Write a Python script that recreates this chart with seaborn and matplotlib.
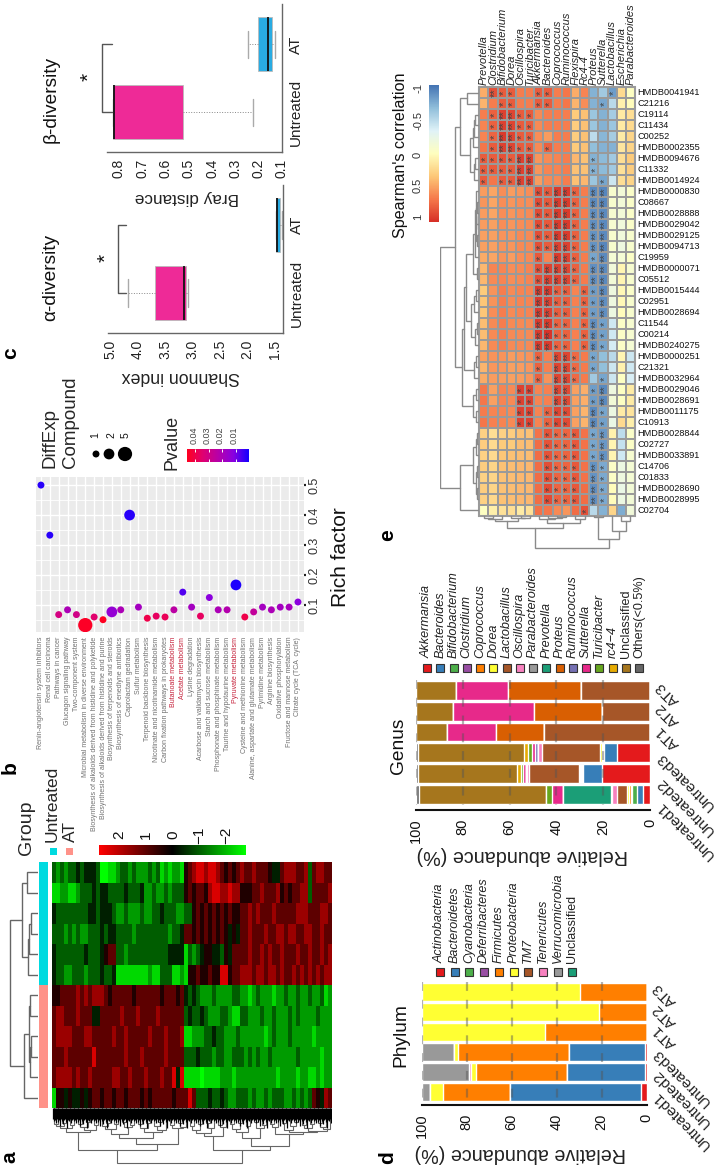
import numpy as np
import pandas as pd
import seaborn as sns
import matplotlib
matplotlib.use('Agg')
import matplotlib.pyplot as plt
from matplotlib.colors import LinearSegmentedColormap
from matplotlib.patches import Rectangle

W, H = 719, 1166

sns.set_style('white')
plt.rcParams['font.family'] = ['Liberation Sans', 'DejaVu Sans']

a_rows = [
    "323233434443" "0011" "23323222323121221" "5678878876565676676665446777667367766",
    "112211233343" "4433" "33433342232232333" "5656657887787755566766675656677366667",
    "433333333443" "4443" "22322232233433322" "3356565656565566767666766666777666776",
    "333232322333" "4344" "33332333333332334" "6656565656545466766676677677667766766",
    "433333334333" "4566" "33233333333334444" "1323455443546666766767667666766766767",
    "433223332333" "4334" "11111111211333112" "1556556558856677767767767667676767677",
    "556666767677" "7656" "66665666666566656" "4343222322223322123222122322322322312",
    "677666766644" "6666" "67666766667666666" "3433432223321133222322322232322223222",
    "677776667766" "6667" "66766666766676667" "1122233433222322222212322232222212222",
    "666766666686" "6666" "66766676666676666" "3334333233223332323223222222322222122",
    "677776766766" "6667" "76676667666766848" "1111011112221222222222212222122112122",
    "155454454566" "5665" "66566656566666566" "6863334334322333232232333223232365476",
]
a_dendro_rows = [11, 16, 7, 9, 10, 28, 8, 9, 7, 8, 14]
a_dendro_cols = [16, 18, 15, 20, 17, 24, 16, 19, 14, 22, 17, 42,
                 18, 15, 21, 16, 26, 14, 19, 17, 30, 16, 20, 15, 24, 18, 14, 22, 36, 17, 20, 15, 19, 55,
                 18, 22, 16, 25, 15, 20, 28, 17, 19, 42,
                 16, 21, 15, 24, 18, 30, 14, 20, 17, 38, 16, 19, 26, 15, 22, 18, 14, 24, 17, 20, 16, 23, 15, 19, 21]
a_stems = [11, 13, 12, 15, 11, 14, 12, 18, 11, 13, 16, 12, 11, 14, 20, 12, 13, 11, 15, 12]
a_n_untreated = 6
a_ticks = ['2', '1', '0', '\u22121', '\u22122']

# ---- panel b
pathways = ['Renin-angiotensin system inhibitors', 'Renal cell carcinoma', 'Pathways in cancer',
            'Glucagon signaling pathway', 'Two-component system', 'Microbial metabolism in diverse environment',
            'Biosynthesis of alkaloids derived from histidine and polyketide',
            'Biosynthesis of alkaloids derived from histidine and purine',
            'Biosynthesis of terpenoids and steroids', 'Biosynthesis of enediyne antibiotics',
            'Caprolactam gedradation', 'Sulfur metabolism', 'Terpenoid backbone biosynthesis',
            'Nicotinate and nicotinamide metabolism', 'Carbon fixation pathways in prokaryotes',
            'Butanoate metabolism', 'Acetate metabolism', 'Lysine degradation',
            'Acarbose and validamycin biosynthesis', 'Starch and sucrose metabolism',
            'Phosphonate and phosphinate metabolism', 'Taurine and hypotaurine metabolism',
            'Pyruvate metabolism', 'Cysteine and methionine metabolism',
            'Alanine, aspartate and glutamate metabolism', 'Pyrimidine metabolism', 'Arginine biosynthesis',
            'Oxidative phosphorylation', 'Fructose and mannose metabolism', 'Citrate cycle (TCA  cycle)']
rich_factor = [0.5, 0.333, 0.068, 0.084, 0.068, 0.033, 0.06, 0.051, 0.077, 0.084, 0.4, 0.093, 0.056, 0.063, 0.06,
               0.084, 0.143, 0.093, 0.063, 0.125, 0.084, 0.084, 0.167, 0.06, 0.077, 0.093, 0.084, 0.093, 0.093, 0.11]
pvalue = [0.002, 0.002, 0.031, 0.02, 0.03, 0.045, 0.035, 0.046, 0.014, 0.02, 0.002, 0.018, 0.04, 0.037, 0.038,
          0.024, 0.006, 0.018, 0.037, 0.012, 0.02, 0.022, 0.001, 0.04, 0.026, 0.018, 0.02, 0.018, 0.019, 0.012]
compound = [1, 1, 1, 1, 1, 5, 1, 1, 2, 1, 2, 1, 1, 1, 1, 1, 1, 1, 1, 1, 1, 1, 2, 1, 1, 1, 1, 1, 1, 1]
red_pathways = ['Butanoate metabolism', 'Acetate metabolism', 'Pyruvate metabolism']
rich_ticks = [0.1, 0.2, 0.3, 0.4, 0.5]

# ---- panel c
alpha_stats = [dict(label='Untreated', whislo=3.08, q1=3.12, med=3.15, q3=3.68, whishi=4.17),
               dict(label='AT', whislo=1.37, q1=1.41, med=1.47, q3=1.48, whishi=1.48)]
beta_stats = [dict(label='Untreated', whislo=0.224, q1=0.525, med=0.82, q3=0.825, whishi=0.825),
              dict(label='AT', whislo=0.13, q1=0.143, med=0.16, q3=0.203, whishi=0.246)]
alpha_ticks = [4.5, 4.0, 3.5, 3.0, 2.5, 2.0, 1.5]
alpha_labels = ['5.0', '4.0', '3.5', '3.0', '2.5', '2.0', '1.5']
beta_ticks = [0.8, 0.7, 0.6, 0.5, 0.4, 0.3, 0.2, 0.1]

# ---- panel d
samples = ['AT3', 'AT2', 'AT1', 'Untreated3', 'Untreated2', 'Untreated1']
phylum_names = ['Actinobacteria', 'Bacteroidetes', 'Cyanobacteria', 'Deferribacteres', 'Firmicutes',
                'Proteobacteria', 'TM7', 'Tenericutes', 'Verrucomicrobia', 'Unclassified']
phylum_colors = ['#E41A1C', '#377EB8', '#4DAF4A', '#984EA3', '#FF7F00', '#FFFF33', '#A65628', '#F781BF', '#999999', '#1B9E77']
phylum_at3 = [0, 0, 0, 0, 29.6, 70.4, 0, 0, 0, 0]
phylum_at2 = [0, 0, 0, 0, 21, 79, 0, 0, 0, 0]
phylum_at1 = [0, 0, 0, 0, 45, 55, 0, 0, 0, 0]
phylum_u3 = [0.7, 33.8, 0, 0, 49.3, 2, 0, 0, 14.2, 0]
phylum_u2 = [0.6, 34.9, 0, 0, 40.5, 2, 0, 0.8, 21.2, 0]
phylum_u1 = [2.5, 58.2, 0, 0, 30, 5.6, 0, 0, 3.7, 0]

# ---- genus
genus_names = ['Akkermansia', 'Bacteroides', 'Bifidobacterium', 'Clostridium', 'Coprococcus', 'Dorea', 'Lactobacillus',
               'Oscillospira', 'Parabacteroides', 'Prevotella', 'Proteus', 'Ruminococcus', 'Sutterella', 'Turicibacter',
               'rc4\u22124', 'Unclassified', 'Others(<0.5%)']
genus_colors = ['#E41A1C', '#377EB8', '#4DAF4A', '#984EA3', '#FF7F00', '#FFFF33', '#A65628', '#F781BF', '#999999',
                '#1B9E77', '#D95F02', '#7570B3', '#E7298A', '#66A61E', '#E6AB02', '#A6761D', '#666666']
genus_at3 = [0, 0, 0, 0, 0, 0, 29.6, 0, 0, 0, 31, 0, 22.3, 0, 0, 17.1, 0]
genus_at2 = [0, 0, 0, 0, 0, 0, 20.4, 0, 0, 0, 29.2, 0, 34.7, 0, 0, 15.7, 0]
genus_at1 = [0, 0, 0, 0, 0, 0, 45.3, 0, 0, 0, 20.4, 0, 21.1, 0, 0, 13.2, 0]
genus_u3 = [13.9, 5.8, 0.4, 0.1, 0.5, 0.5, 25.1, 1.4, 0.1, 0, 0, 1.2, 1.3, 1.7, 1.7, 45.3, 1]
genus_u2 = [20.6, 7.9, 0.5, 0.3, 0.8, 0.4, 21.1, 1.1, 0.1, 0.1, 0, 0.3, 1, 0.8, 2, 42, 1]
genus_u1 = [3.1, 2.3, 2.4, 0.3, 0.9, 0.8, 4.4, 2.2, 0.2, 20.6, 0, 0, 4.7, 2.7, 0, 54.2, 1.4]
abundance_ticks = [0, 20, 40, 60, 80, 100]

# ---- panel e
e_cols = ['Prevotella', 'Clostridium', 'Bifidobacterium', 'Dorea', 'Oscillospira', 'Turicibacter', 'Akkermansia',
          'Bacteroides', 'Coprococcus', 'Ruminococcus', 'Flexispira', 'Rc4-4', 'Proteus', 'Sutterella',
          'Lactobacillus', 'Escherichia', 'Parabacteroides']
e_rows = ['HMDB0041941', 'C21216', 'C19114', 'C11434', 'C00252', 'HMDB0002355', 'HMDB0094676', 'C11332', 'HMDB0014924',
          'HMDB0000830', 'C08667', 'HMDB0028888', 'HMDB0029042', 'HMDB0029125', 'HMDB0094713', 'C19959', 'HMDB0000071',
          'C05512', 'HMDB0015444', 'C02951', 'HMDB0028694', 'C11544', 'C00214', 'HMDB0240275', 'HMDB0000251', 'C21321',
          'HMDB0032964', 'HMDB0029046', 'HMDB0028691', 'HMDB0011175', 'C10913', 'HMDB0028844', 'C02727', 'HMDB0033891',
          'C14706', 'C01833', 'HMDB0028690', 'HMDB0028995', 'C02704']
e_corr = [
    [.45, .85, .8, .8, .65, .65, .8, .8, .65, .68, .45, .62, -.72, -.6, -.82, .22, -.02],
    [.42, .65, .8, .8, .65, .65, .8, .8, .65, .68, .42, .58, -.72, -.78, -.5, .08, .02],
    [.65, .78, .92, .9, .8, .8, .6, .65, .65, .65, .32, .36, -.62, -.72, -.58, .13, .2],
    [.62, .78, .92, .9, .8, .8, .6, .65, .65, .65, .3, .36, -.62, -.72, -.62, .13, .22],
    [.62, .76, .95, .9, .8, .8, .58, .52, .65, .65, .3, .36, -.48, -.7, -.58, .12, .25],
    [.68, .8, .92, .9, .8, .8, .6, .78, .65, .65, .32, .36, -.66, -.72, -.72, .15, .26],
    [.8, .8, .85, .8, .92, .92, .55, .6, .62, .65, .4, .36, -.72, -.68, -.6, .2, .32],
    [.8, .8, .8, .8, .92, .92, .55, .62, .62, .65, .36, .36, -.72, -.68, -.6, .18, .3],
    [.8, .68, .8, .8, .92, .92, .52, .6, .6, .65, .36, .4, -.62, -.78, -.42, .2, .26],
    [.52, .48, .58, .52, .55, .58, .88, .82, .95, .95, .78, .65, -.9, -.92, -.08, -.14, -.05],
    [.55, .48, .58, .55, .58, .58, .88, .82, .95, .95, .78, .65, -.9, -.92, -.08, -.14, -.05],
    [.52, .48, .58, .55, .58, .6, .88, .82, .95, .95, .78, .65, -.88, -.9, -.1, -.14, -.05],
    [.52, .5, .58, .55, .58, .6, .88, .82, .95, .95, .78, .65, -.88, -.9, -.1, -.16, -.06],
    [.5, .5, .56, .55, .6, .6, .86, .8, .95, .95, .78, .65, -.86, -.9, -.08, -.16, -.08],
    [.5, .5, .56, .55, .6, .6, .86, .8, .92, .92, .78, .65, -.86, -.92, -.08, -.18, -.08],
    [.46, .48, .56, .52, .58, .6, .82, .62, .95, .92, .78, .65, -.78, -.9, -.12, -.12, -.04],
    [.4, .62, .62, .58, .6, .62, .86, .92, .92, .9, .78, .66, -.88, -.9, -.15, .06, -.1],
    [.4, .6, .62, .58, .6, .62, .86, .92, .92, .9, .78, .66, -.88, -.9, -.14, .06, -.08],
    [.32, .56, .65, .6, .62, .62, .95, .95, .8, .8, .62, .78, -.82, -.9, -.18, .04, -.06],
    [.34, .56, .65, .6, .62, .62, .95, .92, .8, .8, .64, .78, -.82, -.88, -.18, .04, -.08],
    [.34, .58, .65, .6, .62, .62, .95, .92, .8, .8, .64, .78, -.82, -.88, -.2, .02, -.08],
    [.38, .6, .65, .6, .6, .6, .95, .95, .78, .78, .64, .78, -.88, -.8, -.4, -.04, -.1],
    [.38, .6, .65, .6, .6, .6, .95, .98, .78, .78, .64, .78, -.88, -.8, -.4, -.04, -.1],
    [.4, .6, .65, .6, .6, .6, .95, .95, .78, .78, .64, .78, -.88, -.78, -.38, -.04, -.12],
    [.5, .56, .56, .52, .54, .56, .78, .64, .9, .9, .74, .66, -.78, -.66, -.5, .06, -.42],
    [.42, .54, .54, .5, .52, .54, .78, .64, .9, .9, .74, .66, -.78, -.66, -.42, .08, -.4],
    [.46, .52, .52, .5, .52, .54, .78, .56, .9, .9, .74, .66, -.6, -.78, -.42, -.02, -.36],
    [.68, .5, .62, .6, .92, .92, .62, .64, .9, .88, .5, .44, -.82, -.9, -.18, -.02, .12],
    [.68, .5, .62, .6, .92, .92, .62, .64, .9, .88, .5, .44, -.82, -.9, -.14, -.02, .12],
    [.66, .62, .62, .6, .92, .92, .62, .78, .9, .88, .5, .42, -.9, -.78, -.2, .12, .16],
    [.68, .64, .62, .6, .92, .92, .62, .78, .9, .88, .5, .42, -.9, -.8, -.22, .22, .1],
    [.28, .2, .28, .3, .36, .36, .7, .84, .76, .76, .82, .7, -.78, -.84, .08, -.48, -.06],
    [.3, .22, .32, .32, .38, .38, .72, .84, .76, .76, .82, .7, -.78, -.84, .06, -.45, -.04],
    [.28, .22, .34, .36, .38, .38, .72, .84, .76, .76, .82, .7, -.78, -.86, .06, -.4, -.1],
    [.3, .26, .36, .38, .4, .4, .72, .86, .76, .76, .82, .7, -.86, -.76, -.04, -.2, -.12],
    [.28, .26, .36, .38, .4, .4, .72, .86, .76, .76, .82, .7, -.86, -.76, -.04, -.18, -.12],
    [.3, .26, .36, .38, .4, .4, .72, .88, .76, .76, .82, .72, -.88, -.76, .02, -.22, -.14],
    [.28, .24, .36, .38, .4, .4, .72, .88, .76, .76, .82, .72, -.88, -.76, .02, -.2, -.14],
    [-.02, .1, .18, .2, .12, .18, .7, .68, .6, .55, .72, .85, -.5, -.72, .25, -.75, -.15],
]
# number of stars per cell
e_stars = ["02110011000000100", "00110011000001000", "01221100000000000", "01221100000000000",
           "01221100000000000", "01221101000000000", "11112200000010000", "11112200000010000",
           "10112200000001000", "00000011221022000", "00000011221022000", "00000011221022000",
           "00000011221022000", "00000011221022000", "00000011221022000", "00000010221012000",
           "00000012221022000", "00000012221022000", "00000022110112000", "00000022110112000",
           "00000022110112000", "00000022110121000", "00000022110121000", "00000022110121000",
           "00000010221010000", "00000010221010000", "00000010221001000", "00001100220012000",
           "00001100220012000", "00001101110021000", "00001101110021000", "00000001111012000",
           "00000001111012000", "00000001111012000", "00000001111021000", "00000001111021000",
           "00000001111021000", "00000001111021000", "00000000000100000"]
e_dendro_rows = [12, 19, 4, 5, 6, 9, 4, 5, 24, 3, 2, 2.5, 3, 2, 4, 6, 2, 13, 3, 5, 8, 2, 4, 15, 3, 5, 17,
                 3, 5.5, 3, 39, 2, 3, 5.5, 2, 3, 2, 19]
e_dendro_cols = [2, 3, 5, 2, 1.5, 12, 3, 2, 1, 7, 3, 32, 1, 23, 15, 5]
e_cbar_ticks = [-1, -0.5, 0, 0.5, 1]


def px_axes(x0, y0, x1, y1):
    return fig.add_axes([x0 / W, 1 - y1 / H, (x1 - x0) / W, (y1 - y0) / H])


def tree_lines(heights, lo, hi, out):
    # adjacent merge heights -> binary tree, split at the tallest merge
    if lo == hi:
        return lo + 0.5, 0
    k = lo + int(np.argmax(heights[lo:hi]))
    p1, h1 = tree_lines(heights, lo, k, out)
    p2, h2 = tree_lines(heights, k + 1, hi, out)
    h = heights[k]
    out.append(([p1, p1, p2, p2], [h1, h, h, h2]))
    return (p1 + p2) / 2, h


def draw_tree(ax, heights, flip, color='#777777', lw=1.0):
    out = []
    tree_lines(heights, 0, len(heights), out)
    for pos, hgt in out:
        if flip:
            ax.plot(hgt, pos, color=color, lw=lw, solid_joinstyle='miter')
        else:
            ax.plot(pos, hgt, color=color, lw=lw, solid_joinstyle='miter')
    ax.axis('off')


fig = plt.figure(figsize=(W / 100, H / 100), dpi=100)

# ================= a =================
a_levels = np.array([[int(c) for c in r.ljust(70, '6')[:70]] for r in a_rows], dtype=float)
a_values = (a_levels - 4.5) / 4.5 * 3.0
rg_cmap = LinearSegmentedColormap.from_list('rg', ['#00FF00', '#000000', '#FF0000'])
ax = px_axes(52, 862, 332, 1108)
sns.heatmap(a_values, ax=ax, cmap=rg_cmap, vmin=-2.75, vmax=2.75, cbar=False, xticklabels=False, yticklabels=False)

ax = px_axes(39, 862, 48, 1108)
group_flags = np.array([[0]] * a_n_untreated + [[1]] * (len(a_rows) - a_n_untreated))
sns.heatmap(group_flags, ax=ax, cmap=['#00DAE0', '#FF9289'], cbar=False, xticklabels=False, yticklabels=False)

ax = px_axes(9, 862, 38, 1108)
ax.set_xlim(29, 0)
ax.set_ylim(12, 0)
draw_tree(ax, a_dendro_rows, True, color='#666666')

ax = px_axes(52, 1108, 332, 1166)
ax.set_xlim(0, 70)
ax.set_ylim(58, 0)
draw_tree(ax, a_dendro_cols, False, color='#666666', lw=0.8)
ax.vlines((np.arange(280) + 0.5) / 4, 0, np.resize(a_stems, 280), color='black', lw=0.9)

ax = px_axes(99, 845, 246, 855)
ax.imshow(np.linspace(2.75, -2.75, 200)[None, :], cmap=rg_cmap, vmin=-2.75, vmax=2.75, aspect='auto')
ax.axis('off')

# ================= b =================
pv_cmap = LinearSegmentedColormap.from_list('pv', ['#1400FF', '#8A00E0', '#B800A8', '#E00070', '#FF0020'])
ax = px_axes(36, 477, 304, 632)
ax.set_facecolor('#EBEBEB')
b_frame = pd.DataFrame({'pathway': pathways, 'rich': rich_factor, 'p': pvalue, 'n': compound})
sns.scatterplot(data=b_frame, x='pathway', y='rich', hue='p', palette=pv_cmap, hue_norm=(0, 0.046), size='n',
                sizes={1: 25, 2: 60, 5: 105}, legend=False, linewidth=0, ax=ax, zorder=3)
ax.set_xlim(-0.56, 29.68)
ax.set_ylim(0.01, 0.527)
ax.set_xlabel('')
ax.set_ylabel('')
ax.set_xticks(range(len(pathways)))
ax.set_xticklabels(pathways, rotation=90, fontsize=5, color='#707070', ha='center', va='top')
for lab in ax.get_xticklabels():
    if lab.get_text() in red_pathways:
        lab.set_color('#C5203A')
ax.set_yticks(rich_ticks)
ax.set_yticklabels(['%.1f' % v for v in rich_ticks], rotation=90, va='center', fontsize=9, color='#333333')
ax.set_yticks([0.05, 0.15, 0.25, 0.35, 0.45], minor=True)
ax.yaxis.tick_right()
ax.tick_params(axis='both', which='major', length=1.5, width=1.6, color='#222222', pad=2)
ax.tick_params(axis='y', which='minor', length=0)
ax.grid(True, which='major', color='white', lw=1)
ax.grid(True, which='minor', axis='y', color='white', lw=0.6)
ax.set_axisbelow(True)
sns.despine(ax=ax, left=True, bottom=True, right=True, top=True)

ax = px_axes(187, 449, 249, 462)
ax.imshow(np.linspace(0.046, 0, 200)[None, :], cmap=pv_cmap, vmin=0, vmax=0.046, aspect='auto', extent=(0.046, 0, 0, 1))
ax.vlines([0.04, 0.03, 0.02, 0.01], 0, 0.2, color='white', lw=0.7)
ax.vlines([0.04, 0.03, 0.02, 0.01], 0.8, 1, color='white', lw=0.7)
ax.axis('off')


# ================= c =================
def box_panel(rect, stats, lims, ticks, labels):
    ax = px_axes(*rect)
    bp = ax.bxp(stats, positions=[1, 0], widths=0.8, orientation='horizontal', patch_artist=True, showfliers=False,
                capwidths=0.4, manage_ticks=False,
                boxprops=dict(edgecolor='#BBBBBB', lw=0.6),
                medianprops=dict(color='#111111', lw=1.3),
                whiskerprops=dict(color='#888888', lw=0.7, ls=':'),
                capprops=dict(color='#AAAAAA', lw=1))
    bp['boxes'][0].set_facecolor('#EE2A97')
    bp['boxes'][1].set_facecolor('#29ABE2')
    ax.set_xlim(*lims)
    ax.set_ylim(1.588, -0.588)
    ax.set_xticks(ticks)
    ax.set_xticklabels(labels, rotation=90, fontsize=10, color='#222222')
    ax.set_yticks([0, 1])
    ax.set_yticklabels(['AT', 'Untreated'], rotation=90, va='center', fontsize=11, color='#222222')
    ax.yaxis.tick_right()
    ax.tick_params(length=3, width=0.8, color='#555555', pad=2)
    sns.despine(ax=ax, left=True, top=True, right=False, bottom=False)
    for side in ['bottom', 'right']:
        ax.spines[side].set_color('#666666')
        ax.spines[side].set_linewidth(1)
    ax.patch.set_alpha(0)


box_panel((108, 185, 283, 333), alpha_stats, (4.536, 1.355), alpha_ticks, alpha_labels)
box_panel((107, 4.5, 282, 152), beta_stats, (0.851, 0.1), beta_ticks, ['%.1f' % v for v in beta_ticks])


# ================= d and genus =================
def stack_panel(rect, cats_top, rows, colors, bottom_extra, label_shift):
    ax = px_axes(*rect)
    cum = np.cumsum(np.array(rows, dtype=float), axis=1)
    cum = cum / cum[:, -1:] * 100
    for j in range(cum.shape[1] - 1, -1, -1):
        sns.barplot(x=cum[:, j], y=cats_top, order=cats_top, color=colors[j], saturation=1, width=0.9,
                    errorbar=None, orient='h', ax=ax)
    ax.set_xlim(100, 0)
    ax.set_ylim(5 + bottom_extra, -0.5)
    ax.vlines([20, 40, 60, 80, 100], -0.5, 5.5, color='#555555', alpha=0.45, lw=1.6, ls=(0, (4, 4)), zorder=5)
    ax.set_xlabel('')
    ax.set_ylabel('')
    ax.set_xticks(abundance_ticks)
    ax.set_xticklabels(abundance_ticks, rotation=90, fontsize=10.5, color='#111111')
    ax.tick_params(axis='x', length=4, width=1.3, color='#111111', pad=2)
    ax.set_yticks(range(6))
    ax.set_yticklabels([])
    ax.tick_params(axis='y', length=0)
    sns.despine(ax=ax, left=True, top=True, right=True)
    ax.spines['bottom'].set_linewidth(1.5)
    ax.spines['bottom'].set_color('#111111')
    for i, name in enumerate(cats_top):
        # text end sits a few pixels off the bar centre, as in the source figure
        ax.annotate(name, (0, i), xytext=(6, -label_shift[i] * 0.72), textcoords='offset points', rotation=135,
                    rotation_mode='anchor', ha='right', va='center', fontsize=11, color='#222222',
                    annotation_clip=False)
    ax.patch.set_alpha(0)


stack_panel((421.7, 982, 646.7, 1105), samples,
            [phylum_at3, phylum_at2, phylum_at1, phylum_u3, phylum_u2, phylum_u1], phylum_colors, 0.65,
            [-7, -6, -5, -2, -1, 1])
stack_panel((416, 680, 650, 810), samples,
            [genus_at3, genus_at2, genus_at1, genus_u3, genus_u2, genus_u1], genus_colors, 0.75,
            [-7, -6, -4, 2, 6, 9])

# ================= e =================
e_cmap = LinearSegmentedColormap.from_list('sp', ['#4575B4', '#91BFDB', '#E0F3F8', '#FFFFBF', '#FDC878', '#F67A4C', '#D73027'])
star_labels = [['*' * int(c) for c in row] for row in e_stars]
ax = px_axes(479.3, 87, 635, 516)
sns.heatmap(pd.DataFrame(e_corr, index=e_rows, columns=e_cols), ax=ax, cmap=e_cmap, vmin=-1, vmax=1, cbar=False,
            annot=np.array(star_labels), fmt='', annot_kws=dict(fontsize=8, rotation=90, color='#444444'),
            linewidths=1.1, linecolor='#9A9A9A', xticklabels=True, yticklabels=True)
# asterisks sit high in their line box, after the 90 degree turn that pushes them left
for t in ax.texts:
    t.set_x(t.get_position()[0] + 0.2)
ax.xaxis.tick_top()
ax.yaxis.tick_right()
ax.set_xticklabels(e_cols, rotation=90, style='italic', fontsize=8, color='#222222', ha='center', va='bottom')
ax.set_yticklabels(e_rows, rotation=0, fontsize=6.6, color='#111111', va='center')
ax.tick_params(length=0, pad=1.5)
ax.add_patch(Rectangle((0, 0), 17, 39, fill=False, ec='#9A9A9A', lw=1.5, clip_on=False))

ax = px_axes(440, 87, 479, 516)
ax.set_xlim(39, 0)
ax.set_ylim(39, 0)
draw_tree(ax, e_dendro_rows, True, color='#8A8A8A', lw=1.0)

ax = px_axes(479.3, 516, 635, 550)
ax.set_xlim(0, 17)
ax.set_ylim(34, 0)
draw_tree(ax, e_dendro_cols, False, color='#8A8A8A', lw=1.0)

ax = px_axes(429, 85, 439, 222)
ax.imshow(np.linspace(-1, 1, 200)[:, None], cmap=e_cmap, vmin=-1, vmax=1, aspect='auto')
ax.axis('off')

# ================= text and decorations, in picture pixels =================
ov = fig.add_axes([0, 0, 1, 1], zorder=10)
ov.set_xlim(0, W)
ov.set_ylim(H, 0)
ov.axis('off')


def vtext(x, y, s, size, **kw):
    kw.setdefault('color', '#111111')
    ov.text(x, y, s, rotation=90, fontsize=size, ha='center', va='center', **kw)


for s, x, y in [('a', 10, 1157), ('b', 10, 768), ('c', 11, 353), ('d', 388, 1158), ('e', 388, 535)]:
    vtext(x, y, s, 15, fontweight='bold', color='black')

# a legends
ov.text(27, 855, 'Group', rotation=90, fontsize=14, ha='center', va='bottom')
ov.text(52, 842, 'Untreated', rotation=90, fontsize=12.5, ha='center', va='bottom')
ov.text(70, 842, 'AT', rotation=90, fontsize=12.5, ha='center', va='bottom')
ov.add_patch(Rectangle((49.5, 848), 7, 7, color='#00DAE0', lw=0))
ov.add_patch(Rectangle((66, 848), 7, 7, color='#FF9289', lw=0))
for s, x in zip(a_ticks, [119, 146, 173, 199, 226]):
    vtext(x, 835, s, 11)

# b legends
ov.text(50, 468, 'DiffExp', rotation=90, fontsize=13.5, ha='center', va='bottom')
ov.text(70, 468, 'Compound', rotation=90, fontsize=13.5, ha='center', va='bottom')
ov.scatter([96, 109, 125], [454, 454, 454], s=[25, 60, 105], color='black', linewidth=0)
for s, x in zip(['1', '2', '5'], [95, 111, 126]):
    vtext(x, 435, s, 7.5)
ov.text(172, 470, 'Pvalue', rotation=90, fontsize=13, ha='center', va='bottom')
for s, x in zip(['0.04', '0.03', '0.02', '0.01'], [194, 207, 220, 234]):
    vtext(x, 435, s, 6.5, color='#444444')
vtext(341, 557, 'Rich factor', 15)

# c titles and significance brackets
vtext(51, 277, '\u03b1-diversity', 13.8)
vtext(51, 99, '\u03b2-diversity', 13.8)
ov.text(181, 376, 'Shannon index', rotation=180, fontsize=12.8, ha='center', va='center', color='#222222')
ov.text(187, 197, 'Bray distance', rotation=180, fontsize=12.3, ha='center', va='center', color='#222222')
ov.plot([126, 118, 118, 126], [225, 225, 293, 293], color='#555555', lw=1)
ov.plot([112, 102, 102, 112], [44, 44, 112, 112], color='#555555', lw=1)
vtext(106, 258, '*', 15)
vtext(89, 77, '*', 15)

# d and genus labels
vtext(401, 1035, 'Phylum', 13.8)
vtext(398, 746, 'Genus', 13.8)
ov.text(520, 1153, 'Relative abundance (%)', rotation=180, fontsize=14.2, ha='center', va='center', color='#222222')
ov.text(522, 855, 'Relative abundance (%)', rotation=180, fontsize=14.2, ha='center', va='center', color='#222222')
for i, (name, color) in enumerate(zip(phylum_names, phylum_colors)):
    x = 440 + i * 14.7
    ov.add_patch(Rectangle((x - 4, 968), 8, 8, fc=color, ec='#333333', lw=0.8))
    style = 'normal' if name == 'Unclassified' else 'italic'
    ov.text(x, 963, name, rotation=90, fontsize=9, style=style, ha='center', va='bottom', color='#222222')
for i, (name, color) in enumerate(zip(genus_names, genus_colors)):
    x = 427 + i * 13.25
    ov.add_patch(Rectangle((x - 4, 664), 8, 8, fc=color, ec='#333333', lw=0.8))
    style = 'normal' if name in ('Unclassified', 'Others(<0.5%)') else 'italic'
    ov.text(x, 658, name, rotation=90, fontsize=9.1, style=style, ha='center', va='bottom', color='#222222')

# e colour bar labels
vtext(401, 155, "Spearman's correlation", 11.6)
for v, y in zip(e_cbar_ticks, [88, 120, 155, 185, 217]):
    vtext(418, y, '%g' % v, 8, color='#333333')

fig.savefig('out.png', dpi=100)
